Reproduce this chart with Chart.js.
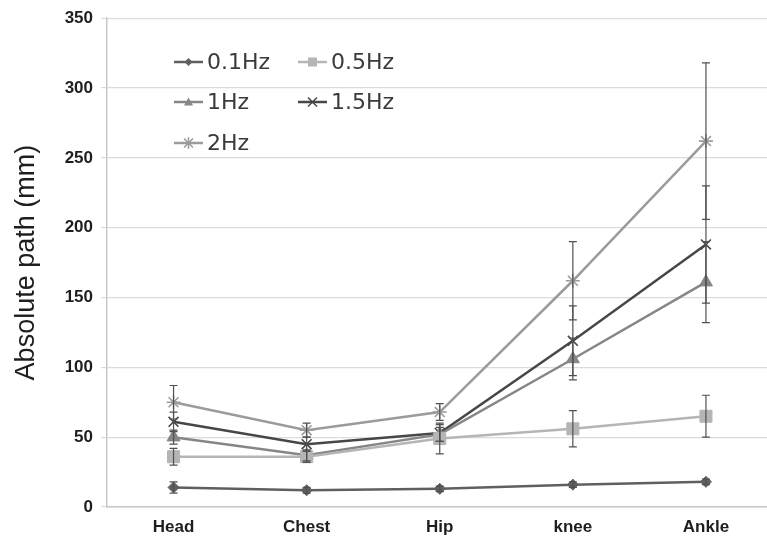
<!DOCTYPE html>
<html>
<head>
<meta charset="utf-8">
<script src="https://cdn.jsdelivr.net/npm/chart.js@4/dist/chart.umd.min.js"></script>
<style>
html,body{margin:0;padding:0;background:#fff;overflow:hidden;width:767px;height:538px;}
canvas{display:block;}
</style>
</head>
<body>
<canvas id="c" width="782" height="538" style="width:782px;height:538px"></canvas>
<script>
// ---- data ----
const categories = ['Head', 'Chest', 'Hip', 'knee', 'Ankle'];
const seriesNames = ['0.1Hz', '0.5Hz', '1Hz', '1.5Hz', '2Hz'];
const f01 = [14, 12, 13, 16, 18];
const f05 = [36, 36, 49, 56, 65];
const f1  = [50, 37, 52, 106, 161];
const f15 = [61, 45, 53, 119, 188];
const f2  = [75, 55, 68, 162, 262];
const err01 = [4, 2, 2, 2, 2];
const err05 = [6, 4, 11, 13, 15];
const err1  = [5, 4, 5, 15, 29];
const err15 = [7, 5, 6, 25, 42];
const err2  = [12, 5, 6, 28, 56];
const yTicks = [0, 50, 100, 150, 200, 250, 300, 350];

const values = [f01, f05, f1, f15, f2];
const errors = [err01, err05, err1, err15, err2];
const colors = ['#5f5f5f', '#b5b5b5', '#868686', '#474747', '#9b9b9b'];
const styles = ['rectRot', 'rect', 'triangle', 'crossRot', 'star'];
const radii = [5.5, 8.5, 7.5, 7, 7];

const datasets = seriesNames.map((n, i) => ({
  label: n,
  data: values[i],
  errors: errors[i],
  borderColor: colors[i],
  backgroundColor: colors[i],
  pointBackgroundColor: colors[i],
  pointBorderColor: colors[i],
  pointStyle: styles[i],
  pointRadius: radii[i],
  pointBorderWidth: (styles[i] === 'crossRot' || styles[i] === 'star') ? 1.6 : 1,
  borderWidth: 2.5,
  tension: 0,
  fill: false
}));

const errorBarPlugin = {
  id: 'errorBars',
  afterDatasetsDraw(chart) {
    const ctx = chart.ctx;
    const y = chart.scales.y;
    ctx.save();
    ctx.strokeStyle = '#505050';
    ctx.lineWidth = 1.2;
    chart.data.datasets.forEach((ds, di) => {
      const meta = chart.getDatasetMeta(di);
      meta.data.forEach((pt, i) => {
        const v = ds.data[i], e = ds.errors[i];
        const yt = y.getPixelForValue(v + e);
        const yb = y.getPixelForValue(v - e);
        const x = pt.x;
        ctx.beginPath();
        ctx.moveTo(x, yt); ctx.lineTo(x, yb);
        ctx.moveTo(x - 4, yt); ctx.lineTo(x + 4, yt);
        ctx.moveTo(x - 4, yb); ctx.lineTo(x + 4, yb);
        ctx.stroke();
      });
    });
    ctx.restore();
  }
};

function marker(ctx, style, x, y, r, color) {
  ctx.save();
  ctx.fillStyle = color; ctx.strokeStyle = color; ctx.lineWidth = 1.5;
  ctx.beginPath();
  if (style === 'rectRot') {
    ctx.moveTo(x, y - r); ctx.lineTo(x + r, y); ctx.lineTo(x, y + r); ctx.lineTo(x - r, y); ctx.closePath(); ctx.fill();
  } else if (style === 'rect') {
    ctx.rect(x - r, y - r, 2 * r, 2 * r); ctx.fill();
  } else if (style === 'triangle') {
    ctx.moveTo(x, y - r); ctx.lineTo(x + r, y + r * 0.8); ctx.lineTo(x - r, y + r * 0.8); ctx.closePath(); ctx.fill();
  } else if (style === 'crossRot') {
    ctx.moveTo(x - r, y - r); ctx.lineTo(x + r, y + r); ctx.moveTo(x + r, y - r); ctx.lineTo(x - r, y + r); ctx.stroke();
  } else if (style === 'star') {
    ctx.moveTo(x - r, y - r); ctx.lineTo(x + r, y + r); ctx.moveTo(x + r, y - r); ctx.lineTo(x - r, y + r);
    ctx.moveTo(x, y - r * 1.3); ctx.lineTo(x, y + r * 1.3); ctx.stroke();
  }
  ctx.restore();
}

const legendPlugin = {
  id: 'innerLegend',
  afterDraw(chart) {
    const ctx = chart.ctx;
    const pos = [[174, 62], [298, 62], [174, 102], [298, 102], [174, 143]];
    const mr = [4, 4.5, 4.5, 4.5, 4.5];
    ctx.save();
    chart.data.datasets.forEach((ds, i) => {
      const [x, y] = pos[i];
      ctx.strokeStyle = ds.borderColor; ctx.lineWidth = 2.5;
      ctx.beginPath(); ctx.moveTo(x, y); ctx.lineTo(x + 29, y); ctx.stroke();
      marker(ctx, ds.pointStyle, x + 14.5, y, mr[i], ds.borderColor);
      ctx.fillStyle = '#3a3a3a';
      ctx.font = '22px "DejaVu Sans"';
      ctx.textBaseline = 'middle';
      ctx.textAlign = 'left';
      ctx.fillText(ds.label, x + 33, y + 1);
    });
    ctx.restore();
  }
};

new Chart(document.getElementById('c'), {
  type: 'line',
  data: { labels: categories, datasets },
  options: {
    responsive: false,
    animation: false,
    layout: { padding: { top: 16, right: 5, left: 0, bottom: 0 } },
    plugins: { legend: { display: false }, tooltip: { enabled: false } },
    scales: {
      x: {
        offset: true,
        afterFit(scale) { scale.height = 31; },
        grid: { display: false, drawTicks: false },
        border: { display: true, color: '#c8c8c8', width: 1.5 },
        ticks: { color: '#1e1e1e', padding: 10, font: { family: '"Liberation Sans", Arial', size: 17, weight: 'bold' } }
      },
      y: {
        min: 0, max: 350,
        afterFit(scale) { scale.width = 107; },
        afterBuildTicks(scale) { scale.ticks = yTicks.map(v => ({ value: v })); },
        grid: { color: '#dcdcdc', lineWidth: 1.2, tickLength: 6 },
        border: { display: true, color: '#c8c8c8', width: 1.5 },
        ticks: { color: '#1e1e1e', padding: 8, font: { family: '"Liberation Sans", Arial', size: 17, weight: 'bold' } },
        title: { display: true, text: 'Absolute path (mm)', color: '#1e1e1e', padding: { top: 10, bottom: 0 }, font: { family: '"Liberation Sans", Arial', size: 27, weight: 'normal' } }
      }
    }
  },
  plugins: [errorBarPlugin, legendPlugin]
});
</script>
</body>
</html>
